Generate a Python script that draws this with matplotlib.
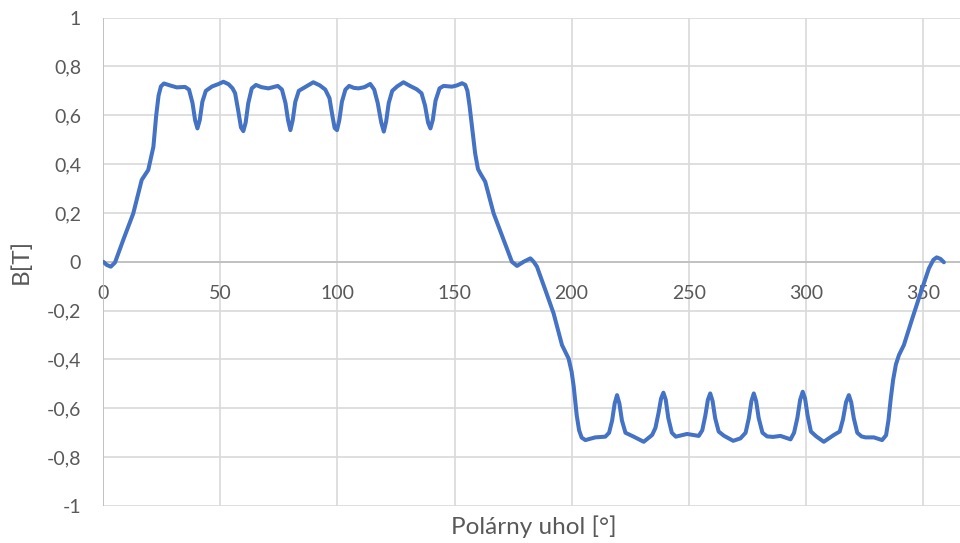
import matplotlib.pyplot as plt
from matplotlib.ticker import FuncFormatter

# uhol [deg] a indukcia B [T] odcitane z grafu
uhol = [0, 1.5, 3.2, 5, 8.5, 12.8, 16.4, 19.2, 21.4, 22.6, 23.6, 24.6, 25.9, 28.5,
        31.4, 34.9, 36.6, 38.1, 39.2, 40.2, 41.2, 42.3, 43.8, 46.5, 49, 51.3,
        53.5, 55.2, 56.3, 57.6, 58.8, 59.8, 60.8, 61.9, 63.4, 65.2, 67.5, 70.5,
        74.5, 76.3, 77.8, 78.9, 79.9, 80.9, 82, 83.5, 86.5, 89.7, 92.5, 94.8,
        96.6, 97.8, 98.8, 99.8, 100.8, 101.9, 103.4, 105, 107, 109, 111.5, 114,
        115.7, 117.2, 118.7, 119.8, 120.8, 121.9, 123.4, 125.5, 128.2, 131,
        133.9, 135.9, 137.4, 138.7, 139.7, 140.7, 141.9, 143.6, 145.3, 148.9,
        151, 153.2, 154.6, 155.5, 156.4, 157.5, 158.8, 160, 161, 163.1, 165,
        166.7, 171, 174.5, 176.7, 179.5, 182.4, 183.8, 185.2, 188.8, 192.3,
        195.9, 198.7, 200, 200.9, 202.2, 203.2, 204.3, 205.9, 210.1, 214.4, 216,
        217.3, 218.4, 219.4, 220.4, 221.5, 223, 226.5, 230.8, 234.4, 235.8,
        237.1, 238.2, 239.2, 240.2, 241.3, 242.8, 244.5, 249.3, 254.3, 255.8,
        257.1, 258.2, 259.2, 260.2, 261.3, 262.8, 265, 269, 272.1, 274.3, 275.7,
        276.8, 277.8, 278.8, 279.9, 281.5, 283.5, 286, 289.2, 293.5, 295, 296.4,
        297.6, 298.7, 299.7, 300.8, 302.2, 304.5, 307.7, 312, 314.5, 315.9,
        317.2, 318.4, 319.4, 320.5, 322, 323.8, 325.5, 329.1, 332.6, 334.3,
        335.3, 336.3, 337.3, 338.5, 339.8, 341.9, 345.5, 349, 352.6, 354.5,
        355.9, 357.5, 359]
B = [0.0, -0.013, -0.02, -0.003, 0.089, 0.198, 0.335, 0.376, 0.471, 0.6, 0.68,
     0.718, 0.73, 0.722, 0.714, 0.716, 0.705, 0.65, 0.58, 0.546, 0.58, 0.655, 0.7,
     0.718, 0.727, 0.737, 0.727, 0.71, 0.69, 0.62, 0.55, 0.535, 0.57, 0.649, 0.71,
     0.724, 0.715, 0.71, 0.72, 0.705, 0.65, 0.58, 0.539, 0.58, 0.655, 0.7, 0.717,
     0.735, 0.722, 0.705, 0.67, 0.6, 0.548, 0.539, 0.58, 0.655, 0.705, 0.72,
     0.712, 0.71, 0.715, 0.728, 0.705, 0.65, 0.57, 0.533, 0.575, 0.65, 0.7, 0.718,
     0.735, 0.72, 0.706, 0.69, 0.64, 0.57, 0.546, 0.58, 0.66, 0.71, 0.72, 0.717,
     0.722, 0.731, 0.724, 0.7, 0.64, 0.55, 0.444, 0.38, 0.362, 0.328, 0.26,
     0.198, 0.089, 0.0, -0.017, 0.0, 0.014, 0.0, -0.02, -0.116, -0.211, -0.341,
     -0.396, -0.45, -0.511, -0.63, -0.69, -0.72, -0.73, -0.719, -0.716, -0.7,
     -0.65, -0.58, -0.546, -0.58, -0.65, -0.7, -0.716, -0.737, -0.709, -0.68,
     -0.62, -0.56, -0.536, -0.565, -0.64, -0.7, -0.716, -0.705, -0.713, -0.69,
     -0.63, -0.565, -0.539, -0.57, -0.64, -0.695, -0.712, -0.733, -0.723, -0.7,
     -0.64, -0.57, -0.539, -0.57, -0.64, -0.7, -0.715, -0.717, -0.713, -0.727,
     -0.7, -0.64, -0.565, -0.532, -0.56, -0.63, -0.695, -0.715, -0.737, -0.709,
     -0.695, -0.645, -0.575, -0.546, -0.575, -0.64, -0.7, -0.715, -0.719, -0.719,
     -0.73, -0.71, -0.65, -0.56, -0.484, -0.42, -0.382, -0.341, -0.232, -0.129,
     -0.027, 0.008, 0.018, 0.012, -0.002]

x_ticks = [0, 50, 100, 150, 200, 250, 300, 350]
y_ticks = [-1, -0.8, -0.6, -0.4, -0.2, 0, 0.2, 0.4, 0.6, 0.8, 1]

plt.rcParams['font.family'] = ['Lato', 'DejaVu Sans']

fig = plt.figure(figsize=(9.6, 5.43), dpi=100)
ax = fig.add_axes([0.1076, 0.0681, 0.8976, 0.8996])

ax.plot(uhol, B, color='#4472C4', linewidth=2.9, solid_joinstyle='round',
        solid_capstyle='round', zorder=3)

ax.set_xlim(0, 368)
ax.set_ylim(-1, 1)
ax.set_xticks(x_ticks)
ax.set_yticks(y_ticks)
ax.yaxis.set_major_formatter(FuncFormatter(lambda v, p: ('%g' % round(v, 1)).replace('.', ',')))

for s in ax.spines.values():
    s.set_visible(False)
ax.grid(True, color='#D9D9D9', linewidth=1.2)
ax.axhline(0, color='#BFBFBF', linewidth=1.3, zorder=2)
ax.axvline(0, color='#BFBFBF', linewidth=1.3, zorder=2)

ax.tick_params(axis='both', length=0, labelsize=14, labelcolor='#595959')
ax.tick_params(axis='y', pad=16)
# popisy osi x su pod nulovou ciarou (os krizuje v nule)
ax.xaxis.set_tick_params(pad=-221 * 0.72)
for lbl in ax.get_xticklabels():
    lbl.set_verticalalignment('top')

ax.set_xlabel('Polárny uhol [°]', fontsize=17.5, color='#595959', va='center')
ax.set_ylabel('B[T]', fontsize=17.5, color='#595959', va='center', ha='center')
ax.xaxis.set_label_coords(0.5, -0.043)
ax.yaxis.set_label_coords(-0.0955, 0.5)

fig.savefig('out.png', dpi=100)
